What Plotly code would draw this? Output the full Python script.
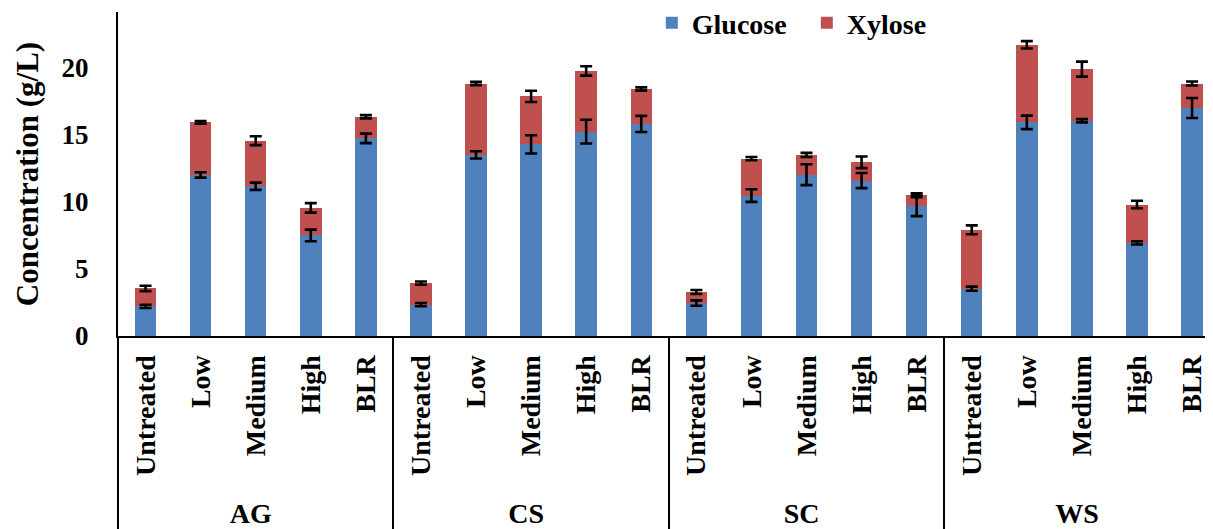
import plotly.graph_objects as go

groups = ["AG", "CS", "SC", "WS"]
treatments = ["Untreated", "Low", "Medium", "High", "BLR"]

glucose = [2.20, 11.98, 11.14, 7.48, 14.70,
           2.33, 13.47, 14.25, 15.20, 15.77,
           2.45, 10.45, 12.00, 11.56, 9.70,
           3.52, 15.89, 16.01, 6.93, 16.96]
xylose = [1.34, 3.91, 3.39, 2.05, 1.61,
          1.60, 5.31, 3.57, 4.52, 2.60,
          0.82, 2.74, 1.47, 1.36, 0.77,
          4.38, 5.77, 3.84, 2.85, 1.82]
glucose_err = [0.12, 0.20, 0.27, 0.43, 0.35,
               0.12, 0.27, 0.68, 0.88, 0.60,
               0.20, 0.47, 0.78, 0.56, 0.78,
               0.15, 0.50, 0.12, 0.12, 0.74]
xylose_err = [0.20, 0.10, 0.33, 0.35, 0.12,
              0.12, 0.12, 0.42, 0.35, 0.12,
              0.15, 0.12, 0.15, 0.43, 0.15,
              0.33, 0.27, 0.56, 0.28, 0.15]

x_outer = [g for g in groups for _ in treatments]
x_inner = [t for _ in groups for t in treatments]
totals = [g + x for g, x in zip(glucose, xylose)]

FONT = "Liberation Serif, Times New Roman, serif"
err_style = dict(type="data", visible=True, color="black", thickness=2.6, width=6)

fig = go.Figure()
fig.add_trace(go.Bar(
    x=[x_outer, x_inner], y=glucose, name="Glucose",
    marker=dict(color="#4F81BD", line=dict(width=0)),
    width=0.39,
))
fig.add_trace(go.Bar(
    x=[x_outer, x_inner], y=xylose, name="Xylose",
    marker=dict(color="#C0504D", line=dict(width=0)),
    width=0.39,
))
# error bars drawn on top of both stacked segments
fig.add_trace(go.Scatter(
    x=[x_outer, x_inner], y=glucose, mode="markers",
    marker=dict(size=1, color="rgba(0,0,0,0)"),
    error_y=dict(array=glucose_err, **err_style),
    showlegend=False, hoverinfo="skip",
))
fig.add_trace(go.Scatter(
    x=[x_outer, x_inner], y=totals, mode="markers",
    marker=dict(size=1, color="rgba(0,0,0,0)"),
    error_y=dict(array=xylose_err, **err_style),
    showlegend=False, hoverinfo="skip",
))

fig.update_layout(
    barmode="stack",
    width=1205, height=521,
    margin=dict(l=110, r=0, t=4, b=193, autoexpand=False),
    plot_bgcolor="white", paper_bgcolor="white",
    font=dict(family=FONT, size=27, color="black", weight="bold"),
    legend=dict(
        orientation="h", x=0.4875, y=0.966, xanchor="left", yanchor="middle",
        font=dict(family=FONT, size=28, weight="bold"),
        bgcolor="rgba(0,0,0,0)", entrywidth=110, entrywidthmode="pixels",
        traceorder="normal",
    ),
    showlegend=True,
)
fig.update_yaxes(
    range=[0, 24.1], tickvals=[0, 5, 10, 15, 20],
    showgrid=False, zeroline=False,
    showline=True, linecolor="black", linewidth=2,
    ticks="", ticklabelstandoff=22,
    tickfont=dict(family=FONT, size=27, weight="bold"),
    title=dict(text="Concentration (g/L)", standoff=14,
               font=dict(family=FONT, size=31, weight="bold")),
)
fig.update_xaxes(
    type="multicategory",
    range=[-0.5, 19.38],
    showgrid=False, zeroline=False,
    showline=True, linecolor="black", linewidth=2,
    ticks="", tickangle=-90, ticklabelstandoff=6,
    tickfont=dict(family=FONT, size=28, weight="bold"),
    showdividers=True, dividercolor="black", dividerwidth=1.5,
)

fig.write_html("out.html")
